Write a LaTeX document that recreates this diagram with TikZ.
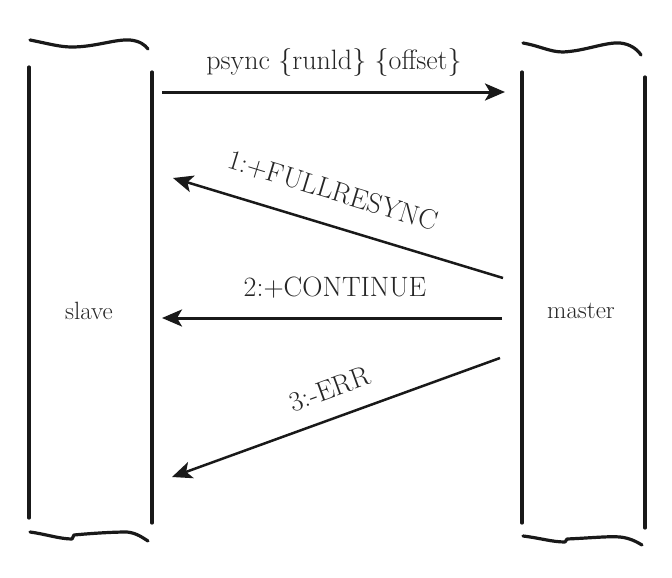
\documentclass[tikz,border=0pt]{standalone}
\usetikzlibrary{arrows.meta}
\begin{document}
\begin{tikzpicture}[x=1pt,y=-1pt,
  stroke/.style={line width=3.2pt,draw=black!90,line cap=round},
  wave/.style={line width=3.2pt,draw=black!90,line cap=round,line join=round},
  msg/.style={line width=3pt,draw=black!90,-{Stealth[length=20pt,width=17pt,inset=5pt]}},
  dmsg/.style={line width=2.5pt,draw=black!90,-{Stealth[length=20pt,width=17pt,inset=5pt]}},
  lbl/.style={text=black!85,font=\fontsize{28}{32}\selectfont,inner sep=0pt},
  partlbl/.style={text=black!85,font=\fontsize{25}{30}\selectfont,inner sep=0pt}]
\useasboundingbox (0,0) rectangle (672,578);
% slave column
\draw[stroke] (29,67) -- (29,518);
\draw[stroke] (152,72) -- (152,523);
\draw[wave] (30,40) .. controls (50,44) and (60,47) .. (72,47) .. controls (95,47) and (115,39) .. (130,40) .. controls (140,41) and (145,45) .. (148,49);
\draw[wave] (30,532) .. controls (45,534) and (60,539) .. (72,539) -- (74,535) .. controls (95,533) and (115,532) .. (127,532) .. controls (137,533) and (143,538) .. (148,541);
% master column
\draw[stroke] (522,72) -- (522,523);
\draw[stroke] (645,77) -- (645,528);
\draw[wave] (523,43) .. controls (540,46) and (550,52) .. (563,52) .. controls (585,51) and (605,42) .. (620,43) .. controls (630,44) and (637,49) .. (641,55);
\draw[wave] (523,536) .. controls (540,538) and (552,542) .. (565,542) -- (567,539) .. controls (590,538) and (610,536) .. (620,537) .. controls (630,538) and (637,542) .. (642,545);
% names
\node[partlbl] (slave) at (89,311) {slave};
\node[partlbl] (master) at (581,311) {master};
% endpoints
\coordinate (s1) at (162,92);   \coordinate (m1) at (505,92);
\coordinate (m2) at (503,278);  \coordinate (s2) at (173,178);
\coordinate (m3) at (502,318);  \coordinate (s3) at (162,318);
\coordinate (m4) at (500,358);  \coordinate (s4) at (172,477);
% messages
\draw[msg] (s1) -- (m1);
\node[lbl] (l1) at (334,63) {psync \{runld\} \{offset\}};
\draw[dmsg] (m2) -- (s2);
\node[lbl,rotate=-17] (l2) at (333,191) {1:+FULLRESYNC};
\draw[msg] (m3) -- (s3);
\node[lbl] (l3) at (335,288) {2:+CONTINUE};
\draw[dmsg] (m4) -- (s4);
\node[lbl,rotate=20] (l4) at (330,389) {3:-ERR};
\end{tikzpicture}
\end{document}
